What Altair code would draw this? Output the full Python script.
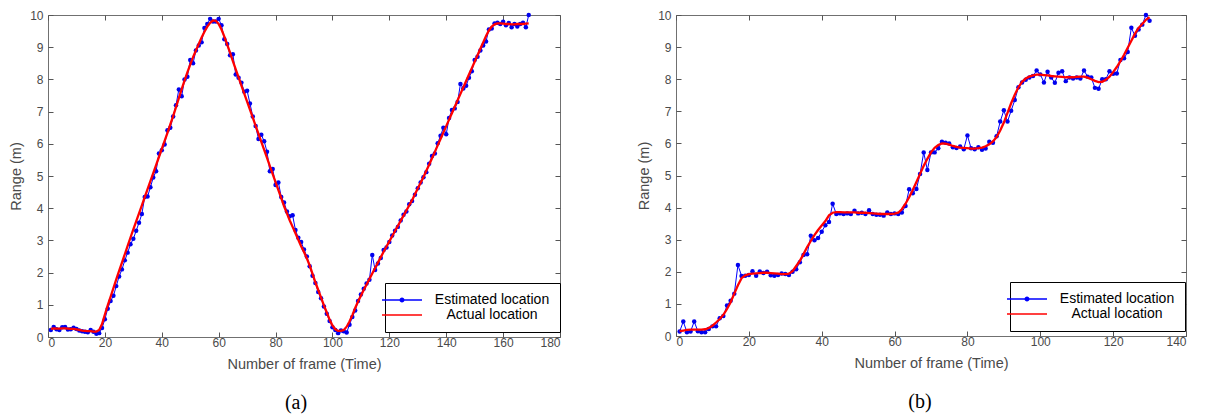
import altair as alt
import pandas as pd

EST = "Estimated location"
ACT = "Actual location"

# ---------------- panel (a) ----------------
frames_a = list(range(1, 170))
est_a = [
    0.22, 0.31, 0.24, 0.22, 0.30, 0.31, 0.23, 0.24, 0.29, 0.25,
    0.20, 0.18, 0.16, 0.15, 0.22, 0.16, 0.10, 0.12, 0.28, 0.55,
    0.88, 1.12, 1.28, 1.58, 1.88, 2.10, 2.38, 2.62, 2.88, 3.05,
    3.30, 3.55, 3.82, 4.35, 4.36, 4.65, 4.95, 5.15, 5.70, 5.80,
    5.98, 6.42, 6.50, 6.85, 7.20, 7.69, 7.48, 8.00, 8.08, 8.60,
    8.50, 8.90, 9.05, 9.15, 9.60, 9.72, 9.88, 9.80, 9.80, 9.88,
    9.68, 9.25, 9.10, 8.75, 8.78, 8.15, 8.05, 7.90, 7.62, 7.65,
    7.25, 6.85, 6.55, 6.15, 6.28, 6.08, 5.75, 5.15, 5.22, 4.72,
    4.80, 4.35, 4.18, 3.90, 3.75, 3.78, 3.32, 3.08, 2.95, 2.72,
    2.50, 2.20, 1.90, 1.68, 1.40, 1.20, 0.95, 0.72, 0.50, 0.30,
    0.22, 0.12, 0.20, 0.18, 0.14, 0.38, 0.62, 0.82, 1.12, 1.32,
    1.50, 1.66, 1.78, 2.55, 2.08, 2.28, 2.45, 2.70, 2.78, 2.95,
    3.15, 3.30, 3.42, 3.62, 3.80, 3.90, 4.12, 4.22, 4.42, 4.62,
    4.80, 4.96, 5.12, 5.38, 5.62, 5.70, 6.02, 6.25, 6.50, 6.30,
    6.80, 7.05, 7.10, 7.30, 7.86, 7.72, 7.80, 8.05, 8.25, 8.60,
    8.70, 8.90, 9.05, 9.18, 9.55, 9.58, 9.74, 9.76, 9.72, 9.79,
    9.68, 9.75, 9.62, 9.72, 9.64, 9.72, 9.76, 9.62, 10.00,
]
act_a = [
    0.25, 0.27, 0.26, 0.26, 0.27, 0.27, 0.26, 0.25, 0.25, 0.24,
    0.22, 0.20, 0.19, 0.18, 0.18, 0.17, 0.17, 0.22, 0.40, 0.70,
    0.98, 1.25, 1.52, 1.79, 2.05, 2.31, 2.57, 2.83, 3.09, 3.34,
    3.59, 3.84, 4.09, 4.34, 4.59, 4.84, 5.09, 5.34, 5.59, 5.84,
    6.09, 6.34, 6.60, 6.86, 7.14, 7.42, 7.70, 7.96, 8.22, 8.46,
    8.69, 8.90, 9.10, 9.30, 9.48, 9.64, 9.76, 9.83, 9.82, 9.72,
    9.55, 9.33, 9.08, 8.83, 8.57, 8.31, 8.06, 7.81, 7.56, 7.31,
    7.06, 6.81, 6.56, 6.31, 6.06, 5.81, 5.56, 5.31, 5.06, 4.81,
    4.56, 4.31, 4.06, 3.84, 3.62, 3.42, 3.22, 3.02, 2.82, 2.64,
    2.44, 2.22, 1.96, 1.70, 1.46, 1.22, 0.98, 0.76, 0.54, 0.36,
    0.24, 0.19, 0.19, 0.22, 0.32, 0.48, 0.68, 0.90, 1.10, 1.28,
    1.46, 1.63, 1.80, 1.97, 2.14, 2.31, 2.48, 2.65, 2.81, 2.97,
    3.13, 3.29, 3.45, 3.61, 3.77, 3.93, 4.09, 4.25, 4.43, 4.61,
    4.79, 4.97, 5.16, 5.35, 5.55, 5.75, 5.95, 6.15, 6.35, 6.55,
    6.75, 6.95, 7.15, 7.35, 7.55, 7.75, 7.95, 8.15, 8.35, 8.55,
    8.75, 8.95, 9.15, 9.35, 9.52, 9.64, 9.71, 9.74, 9.74, 9.73,
    9.72, 9.72, 9.71, 9.71, 9.72, 9.72, 9.72, 9.73, 9.74,
]
xticks_a = [0, 20, 40, 60, 80, 100, 120, 140, 160, 180]

# ---------------- panel (b) ----------------
frames_b = list(range(1, 131))
est_b = [
    0.14, 0.45, 0.12, 0.14, 0.45, 0.15, 0.12, 0.12, 0.22, 0.30,
    0.30, 0.55, 0.62, 0.95, 1.10, 1.32, 2.21, 1.87, 1.88, 1.90,
    2.02, 1.88, 2.01, 1.96, 2.00, 1.89, 1.88, 1.90, 1.95, 1.93,
    1.90, 2.00, 2.08, 2.30, 2.52, 2.55, 3.12, 2.98, 3.05, 3.25,
    3.45, 3.55, 4.12, 3.80, 3.82, 3.80, 3.82, 3.80, 3.90, 3.82,
    3.84, 3.80, 3.92, 3.80, 3.78, 3.78, 3.75, 3.85, 3.80, 3.82,
    3.80, 3.85, 4.05, 4.57, 4.45, 4.58, 5.05, 5.72, 5.17, 5.72,
    5.72, 5.85, 6.05, 6.02, 6.00, 5.88, 5.86, 5.90, 5.82, 6.25,
    5.85, 5.82, 5.88, 5.80, 5.84, 6.05, 6.02, 6.22, 6.68, 7.03,
    6.68, 7.02, 7.35, 7.75, 7.90, 7.98, 8.05, 8.10, 8.27, 8.15,
    7.90, 8.23, 8.05, 7.89, 8.20, 8.25, 7.94, 8.05, 8.02, 8.05,
    8.02, 8.27, 8.08, 8.05, 7.73, 7.70, 8.00, 8.00, 8.25, 8.17,
    8.18, 8.60, 8.65, 8.85, 9.60, 9.35, 9.55, 9.70, 10.00, 9.82,
]
act_b = [
    0.15, 0.17, 0.19, 0.20, 0.20, 0.20, 0.20, 0.21, 0.25, 0.32,
    0.42, 0.53, 0.66, 0.84, 1.05, 1.32, 1.58, 1.80, 1.89, 1.93,
    1.94, 1.95, 1.96, 1.97, 1.97, 1.96, 1.95, 1.94, 1.93, 1.93,
    1.94, 2.02, 2.18, 2.34, 2.55, 2.77, 2.96, 3.14, 3.30, 3.44,
    3.58, 3.76, 3.84, 3.86, 3.86, 3.85, 3.85, 3.85, 3.85, 3.84,
    3.84, 3.84, 3.83, 3.82, 3.81, 3.80, 3.80, 3.80, 3.80, 3.81,
    3.84, 3.95, 4.12, 4.32, 4.55, 4.80, 5.05, 5.30, 5.52, 5.72,
    5.86, 5.95, 6.00, 5.99, 5.96, 5.92, 5.89, 5.87, 5.86, 5.85,
    5.84, 5.84, 5.85, 5.87, 5.91, 5.97, 6.06, 6.20, 6.40, 6.65,
    6.95, 7.25, 7.52, 7.75, 7.92, 8.02, 8.08, 8.12, 8.14, 8.14,
    8.13, 8.12, 8.10, 8.09, 8.08, 8.07, 8.06, 8.06, 8.06, 8.07,
    8.08, 8.08, 8.05, 8.00, 7.95, 7.91, 7.92, 7.98, 8.08, 8.22,
    8.38, 8.56, 8.76, 8.98, 9.20, 9.42, 9.60, 9.72, 9.85, 9.93,
]
xticks_b = [0, 20, 40, 60, 80, 100, 120, 140]

yticks = [0, 1, 2, 3, 4, 5, 6, 7, 8, 9, 10]

FONT = "Liberation Sans"
GRAY = "#4a4a4a"
# legend glyphs: a 40px segment, the estimated one with a small dot on it
EST_PATH = ("M-4,0H4"
            "M-0.34,0A0.34,0.34,0,1,1,0.34,0A0.34,0.34,0,1,1,-0.34,0"
            "M-0.14,0A0.14,0.14,0,1,1,0.14,0A0.14,0.14,0,1,1,-0.14,0")
ACT_PATH = "M-4,0H4"


def panel(frames, est, act, xmax, xticks, w, h, caption, cap_dx, lx, ly):
    df_est = pd.DataFrame({"frame": frames, "range": est, "series": EST})
    df_act = pd.DataFrame({"frame": frames, "range": act, "series": ACT})
    xs = alt.Scale(domain=[0, xmax], nice=False, zero=False)
    ys = alt.Scale(domain=[0, 10], nice=False, zero=False)

    common = dict(grid=False, domain=False, tickSize=5, offset=-5,
                  tickColor="#555555", tickWidth=1)
    ax_bottom = alt.Axis(orient="bottom", values=xticks, format="d",
                         labelPadding=0, labelFont=FONT, labelFontSize=12,
                         labelColor=GRAY, title="Number of frame (Time)",
                         titleFont=FONT, titleFontSize=14.5,
                         titleFontWeight="normal", titleColor=GRAY,
                         titlePadding=9, **common)
    ax_left = alt.Axis(orient="left", values=yticks, format="d",
                       labelPadding=5, labelFont=FONT, labelFontSize=12,
                       labelColor=GRAY, title="Range (m)", titleFont=FONT,
                       titleFontSize=14.5, titleFontWeight="normal",
                       titleColor=GRAY, titlePadding=6, **common)
    ax_top = alt.Axis(orient="top", values=xticks, labels=False, title=None,
                      **common)
    ax_right = alt.Axis(orient="right", values=yticks, labels=False,
                        title=None, **common)

    color = alt.Color(
        "series:N",
        scale=alt.Scale(domain=[EST, ACT], range=["#0000ff", "#ff0000"]),
        legend=alt.Legend(
            title=None, orient="none", legendX=lx, legendY=ly,
            direction="vertical", fillColor="white", strokeColor="black",
            padding=10, labelFont=FONT, labelFontSize=14, labelColor="black",
            symbolSize=100, symbolStrokeWidth=1.6,
            labelAlign="center", labelOffset=83,
            rowPadding=1,
            symbolType=alt.ExprRef(
                expr=f"datum.value === '{ACT}' ? '{ACT_PATH}' : '{EST_PATH}'"
            ),
        ),
    )

    est_line = alt.Chart(df_est).mark_line(strokeWidth=1).encode(
        x=alt.X("frame:Q", scale=xs, axis=ax_bottom),
        y=alt.Y("range:Q", scale=ys, axis=ax_left),
        color=color,
    )
    est_pts = alt.Chart(df_est).mark_point(
        filled=True, size=20, opacity=1, shape="circle", color="#0000ee"
    ).encode(
        x=alt.X("frame:Q", scale=xs, axis=ax_top),
        y=alt.Y("range:Q", scale=ys, axis=ax_right),
    )
    act_line = alt.Chart(df_act).mark_line(strokeWidth=2.3).encode(
        x=alt.X("frame:Q", scale=xs, axis=None),
        y=alt.Y("range:Q", scale=ys, axis=None),
        color=color,
    )
    return (
        alt.layer(est_line, est_pts, act_line)
        .resolve_axis(x="independent", y="independent")
        .properties(
            width=w,
            height=h,
            title=alt.TitleParams(
                text=caption, orient="bottom", frame="group", anchor="middle",
                font="Liberation Serif", fontSize=20, fontWeight="normal",
                color="black", dx=cap_dx, offset=22,
            ),
        )
    )


left = panel(frames_a, est_a, act_a, 180, xticks_a, 512, 322, "(a)", -8, 337, 268)
right = panel(frames_b, est_b, act_b, 140, xticks_b, 510, 321, "(b)", -11, 334, 267)

chart = (
    alt.hconcat(left, right, spacing=75)
    .resolve_scale(color="independent")
    .resolve_legend(color="independent")
    .properties(padding={"left": 0, "top": 0, "right": 2, "bottom": 2},
                background="white")
    .configure_view(stroke="#707070", strokeWidth=1)
)

chart.save("out.html", embed_options={"renderer": "svg", "actions": False})
